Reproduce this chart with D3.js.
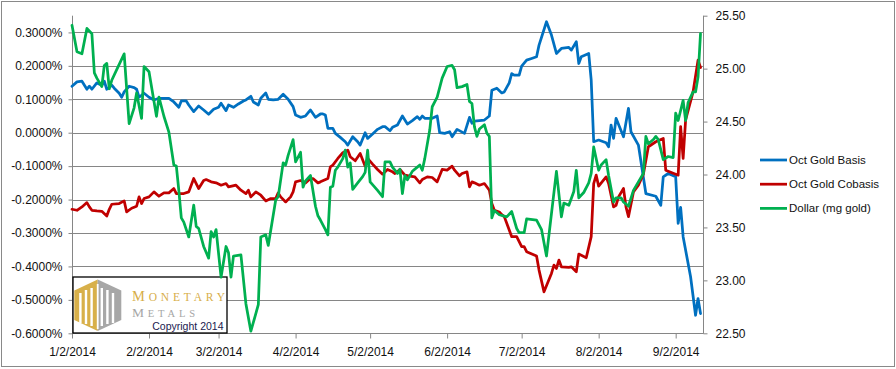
<!DOCTYPE html>
<html><head><meta charset="utf-8">
<script src="https://cdn.jsdelivr.net/npm/d3@7"></script>
<style>body{margin:0;background:#fff}svg{display:block}</style>
</head><body>
<svg id="chart" width="896" height="369"></svg>
<script>
// ---- data (day = day of year 2014) ----
const basisDay = [2,4,6,8,9,10,12,14,15,16,18,19,21,22,23,25,27,28,29,31,32,33,35,37,39,41,43,45,46,48,49,51,53,55,57,59,61,62,64,65,67,69,71,72,74,75,77,78,80,81,83,85,87,89,91,92,94,96,98,100,102,103,104,105,107,108,110,112,113,115,117,118,120,121,123,125,127,128,130,131,133,135,137,139,141,142,143,144,147,149,150,152,154,155,157,160,162,163,164,168,170,171,173,175,176,178,179,180,182,183,185,187,189,190,193,195,197,199,202,203,205,206,207,210,211,212,214,217,218,219,220,221,224,226,227,230,233,237,239,240,242,245,246,247,248,251,253,254,255];
const basisPct = [0.139,0.152,0.154,0.130,0.139,0.130,0.149,0.142,0.154,0.130,0.142,0.133,0.118,0.106,0.122,0.139,0.135,0.130,0.106,0.118,0.112,0.106,0.098,0.103,0.103,0.103,0.092,0.076,0.095,0.095,0.083,0.063,0.080,0.068,0.055,0.070,0.076,0.088,0.066,0.083,0.076,0.086,0.095,0.098,0.109,0.092,0.083,0.103,0.119,0.100,0.098,0.100,0.115,0.100,0.078,0.053,0.046,0.050,0.068,0.046,0.056,0.056,0.053,0.013,0.013,-0.002,-0.014,-0.027,-0.037,-0.012,-0.027,-0.037,0.000,-0.017,-0.004,0.010,0.018,0.018,0.006,0.016,0.023,0.050,0.026,0.036,0.048,0.040,0.050,0.043,0.043,0.050,0.000,-0.002,0.003,-0.012,0.010,-0.002,0.046,0.028,0.035,0.038,0.050,0.127,0.133,0.119,0.122,0.149,0.177,0.172,0.172,0.199,0.217,0.222,0.227,0.262,0.332,0.292,0.237,0.252,0.255,0.247,0.272,0.207,0.227,0.237,0.157,-0.027,-0.022,-0.030,-0.042,0.023,-0.017,0.043,-0.012,0.073,0.003,-0.037,-0.182,-0.190,-0.217,-0.132,-0.122,-0.132,-0.271,-0.223,-0.311,-0.431,-0.546,-0.496,-0.541];

const cobasisDay = [2,4,6,8,9,10,12,14,16,17,18,21,23,24,26,28,29,30,31,33,35,37,39,41,43,44,47,49,51,52,53,55,56,58,60,62,64,65,68,70,72,73,74,76,78,80,82,84,85,86,88,90,91,92,94,96,98,99,101,102,105,106,107,109,111,113,114,116,118,120,121,123,125,127,129,131,132,134,136,138,140,142,143,145,147,149,151,153,155,156,158,159,161,162,163,164,166,168,170,171,172,174,175,176,177,178,179,181,183,184,185,189,190,192,195,196,197,198,199,202,203,205,206,209,211,212,213,214,217,218,220,221,222,224,225,226,228,230,232,234,237,240,241,246,247,248,249,252,254,255];
const cobasisPct = [-0.229,-0.232,-0.222,-0.209,-0.222,-0.232,-0.234,-0.235,-0.249,-0.229,-0.214,-0.212,-0.204,-0.237,-0.226,-0.220,-0.192,-0.212,-0.197,-0.192,-0.177,-0.190,-0.180,-0.180,-0.167,-0.182,-0.182,-0.177,-0.137,-0.152,-0.167,-0.143,-0.140,-0.147,-0.150,-0.157,-0.152,-0.162,-0.157,-0.172,-0.182,-0.172,-0.192,-0.177,-0.187,-0.204,-0.197,-0.197,-0.180,-0.192,-0.207,-0.192,-0.177,-0.147,-0.143,-0.150,-0.137,-0.137,-0.150,-0.147,-0.137,-0.102,-0.097,-0.077,-0.060,-0.052,-0.072,-0.084,-0.062,-0.100,-0.077,-0.094,-0.110,-0.124,-0.110,-0.117,-0.122,-0.110,-0.127,-0.130,-0.132,-0.150,-0.140,-0.132,-0.134,-0.147,-0.110,-0.112,-0.100,-0.112,-0.129,-0.122,-0.117,-0.162,-0.147,-0.150,-0.157,-0.152,-0.172,-0.212,-0.232,-0.237,-0.245,-0.251,-0.271,-0.291,-0.311,-0.311,-0.341,-0.341,-0.356,-0.369,-0.411,-0.476,-0.421,-0.396,-0.406,-0.381,-0.401,-0.403,-0.401,-0.416,-0.363,-0.374,-0.311,-0.152,-0.127,-0.160,-0.132,-0.152,-0.222,-0.217,-0.192,-0.167,-0.222,-0.251,-0.177,-0.157,-0.124,-0.042,-0.027,-0.017,-0.112,-0.127,0.018,-0.077,0.038,0.122,0.217,0.195];

const dollarDay = [2,4,6,8,10,11,12,14,15,16,17,18,20,23,25,27,28,30,31,33,36,37,39,41,43,44,45,46,47,49,51,52,53,55,57,58,59,60,62,64,65,66,67,70,72,74,77,78,80,81,84,85,87,88,89,91,92,94,95,96,98,100,101,102,104,105,106,107,108,109,111,112,113,114,115,117,119,120,121,122,125,127,128,130,131,133,134,135,136,137,139,141,142,143,144,146,147,149,151,153,155,156,157,159,161,162,163,164,165,166,168,169,170,171,172,174,177,179,181,182,184,185,189,191,193,197,199,200,202,204,205,206,208,210,211,212,214,215,217,218,220,221,223,224,226,228,230,232,233,234,236,237,238,240,242,244,245,246,248,249,250,252,253,254,255];
const dollarMg = [25.41,25.16,25.14,25.38,25.33,24.96,24.91,24.83,25.03,25.05,24.81,24.89,24.99,25.14,24.48,24.63,24.77,24.53,25.02,24.97,24.55,24.73,24.55,24.40,24.09,24.08,23.85,23.59,23.55,23.41,23.71,23.51,23.49,23.32,23.21,23.46,23.41,23.48,23.03,23.32,23.26,23.03,23.23,23.24,22.78,22.52,22.77,23.41,23.43,23.33,23.76,23.79,24.11,24.09,24.18,24.33,24.12,24.21,23.88,23.94,23.99,23.70,23.61,23.57,23.48,23.43,23.88,23.89,24.04,24.07,24.15,24.23,24.07,24.11,23.86,23.92,23.98,24.02,24.23,23.93,23.85,23.79,24.12,24.12,24.07,24.01,24.05,23.82,23.99,23.95,24.03,24.07,24.09,24.04,24.15,24.42,24.64,24.73,24.91,25.02,25.03,24.99,24.82,24.83,24.85,24.69,24.67,24.45,24.36,24.43,24.47,24.39,24.36,23.59,23.66,23.62,23.60,23.65,23.49,23.45,23.45,23.58,23.57,23.48,23.23,24.03,23.60,23.73,23.71,23.84,24.04,23.78,23.83,23.92,24.01,24.26,24.04,24.09,24.14,23.99,23.74,23.78,23.78,23.74,23.70,23.85,23.93,24.01,24.36,24.29,24.33,24.36,24.33,24.14,24.17,24.16,24.58,24.51,24.70,24.51,24.68,24.78,24.78,24.92,25.33];

const seriesNames = ["Oct Gold Basis","Oct Gold Cobasis","Dollar (mg gold)"];
const seriesColors = ["#0070C0","#C00000","#00B050"];
const leftTicks = [-0.6,-0.5,-0.4,-0.3,-0.2,-0.1,0,0.1,0.2,0.3];
const rightTicks = [22.5,23,23.5,24,24.5,25,25.5];
const xTickLabels = ["1/2/2014","2/2/2014","3/2/2014","4/2/2014","5/2/2014","6/2/2014","7/2/2014","8/2/2014","9/2/2014"];

// ---- layout ----
const svg = d3.select("#chart");
const L = 72, R = 703, T = 15.7, B = 333.3;
const FONT = "'Liberation Sans', Arial, sans-serif";
const SERIF = "'Liberation Serif','DejaVu Serif',serif";
const GRID = "#868686";
const toDate = d => new Date(2014, 0, d);
const parseLbl = s => { const p = s.split("/").map(Number); return new Date(p[2], p[0]-1, p[1]); };

const x = d3.scaleTime().domain([new Date(2014,0,2), new Date(2014,8,13)]).range([L, R]);
const yL = d3.scaleLinear().domain([-0.6, 0.35]).range([B, T]);
const yR = d3.scaleLinear().domain([22.5, 25.5]).range([B, T]);

svg.append("rect").attr("x",0).attr("y",0).attr("width",896).attr("height",369).attr("fill","#fff");
svg.append("rect").attr("x",1.5).attr("y",1.5).attr("width",893).attr("height",365)
  .attr("fill","none").attr("stroke","#898989").attr("stroke-width",1);

// gridlines
svg.append("g").selectAll("line").data(leftTicks).join("line")
  .attr("x1", L).attr("x2", R).attr("y1", d => Math.round(yL(d))+0.5).attr("y2", d => Math.round(yL(d))+0.5)
  .attr("stroke", GRID).attr("stroke-width", 1);

function styleAxis(g){
  g.select(".domain").remove();
  g.selectAll("line").attr("stroke", GRID);
  g.selectAll("text").attr("font-family", FONT).attr("font-size", 12).attr("fill", "#111");
}

// left axis
svg.append("g").attr("transform", `translate(${L+0.5},0)`)
  .call(d3.axisLeft(yL).tickValues(leftTicks).tickSize(4).tickSizeOuter(0).tickPadding(6)
    .tickFormat(d => d.toFixed(4) + "%"))
  .call(styleAxis);
// right axis
svg.append("g").attr("transform", `translate(${R+0.5},0)`)
  .call(d3.axisRight(yR).tickValues(rightTicks).tickSize(4).tickSizeOuter(0).tickPadding(8)
    .tickFormat(d => d.toFixed(2)))
  .call(styleAxis);
// bottom axis
svg.append("g").attr("transform", `translate(0,${Math.round(B)+0.5})`)
  .call(d3.axisBottom(x).tickValues(xTickLabels.map(parseLbl)).tickSize(5).tickSizeOuter(0).tickPadding(9)
    .tickFormat(d3.timeFormat("%-m/%-d/%Y")))
  .call(styleAxis);

// axis lines
svg.append("line").attr("x1",L+0.5).attr("x2",L+0.5).attr("y1",T).attr("y2",B+0.5).attr("stroke",GRID);
svg.append("line").attr("x1",R+0.5).attr("x2",R+0.5).attr("y1",T).attr("y2",B+0.5).attr("stroke",GRID);
svg.append("line").attr("x1",L).attr("x2",R+0.5).attr("y1",Math.round(B)+0.5).attr("y2",Math.round(B)+0.5).attr("stroke",GRID);

// logo box
const logo = svg.append("g");
logo.append("rect").attr("x",73).attr("y",277).attr("width",154).attr("height",56)
  .attr("fill","#fff").attr("stroke","#000").attr("stroke-width",1.3);
logo.append("polygon").attr("points","97.7,279.5 74.3,290.5 74.3,320 97.7,331").attr("fill","#D8B04A");
logo.append("polygon").attr("points","97.7,279.5 121.3,290.5 121.3,320 97.7,331").attr("fill","#A7A7A7");
[[79.2,293,2.4,30],[84.8,290,2.4,34],[90.4,288,2.4,38],[96.8,284,1.8,45],[100.6,288,2.4,38],[106.2,290,2.4,34],[111.8,293,2.4,30]]
  .forEach(r => logo.append("rect").attr("x",r[0]).attr("y",r[1]).attr("width",r[2]).attr("height",r[3]).attr("fill","#fff"));
const t1 = logo.append("text").attr("x",132).attr("y",301).attr("fill","#D7AE4A")
  .attr("font-family",SERIF).attr("textLength",93).attr("lengthAdjust","spacing");
t1.append("tspan").attr("font-size",14.5).text("M");
t1.append("tspan").attr("font-size",11.5).text("ONETARY");
const t2 = logo.append("text").attr("x",132).attr("y",316.5).attr("fill","#A6A6A6")
  .attr("font-family",SERIF).attr("textLength",63).attr("lengthAdjust","spacing");
t2.append("tspan").attr("font-size",13.5).text("M");
t2.append("tspan").attr("font-size",10.5).text("ETALS");
logo.append("text").attr("x",223.5).attr("y",329.5).attr("text-anchor","end").attr("fill","#1a1a50")
  .attr("font-family",FONT).attr("font-size",10.5).text("Copyright 2014");

// lines
const lineL = d3.line().x(d => x(toDate(d[0]))).y(d => yL(d[1]));
const lineR = d3.line().x(d => x(toDate(d[0]))).y(d => yR(d[1]));
const series = [
  {pts: d3.zip(basisDay, basisPct), gen: lineL},
  {pts: d3.zip(cobasisDay, cobasisPct), gen: lineL},
  {pts: d3.zip(dollarDay, dollarMg), gen: lineR}
];
series.forEach((s, i) => {
  svg.append("path").attr("d", s.gen(s.pts)).attr("fill","none")
    .attr("stroke", seriesColors[i]).attr("stroke-width", 2.75)
    .attr("stroke-linejoin","round").attr("stroke-linecap","round");
});

// legend
const lg = svg.append("g");
seriesNames.forEach((n, i) => {
  const yy = 160 + i * 24.2;
  lg.append("line").attr("x1",760).attr("x2",787).attr("y1",yy).attr("y2",yy)
    .attr("stroke",seriesColors[i]).attr("stroke-width",2.75);
  lg.append("text").attr("x",789).attr("y",yy).attr("dy","0.35em")
    .attr("font-family",FONT).attr("font-size",11.5).attr("fill","#111").text(n);
});
</script>
</body></html>
